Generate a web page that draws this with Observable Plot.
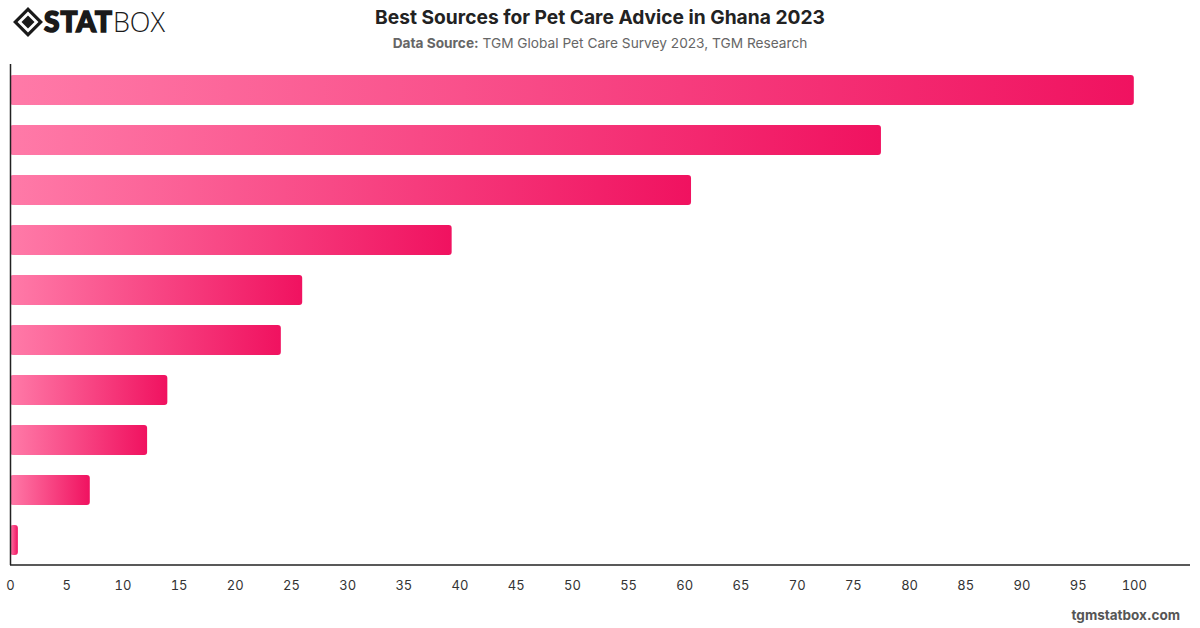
<!DOCTYPE html>
<html>
<head>
<meta charset="utf-8">
<script src="https://cdn.jsdelivr.net/npm/d3@7"></script>
<script src="https://cdn.jsdelivr.net/npm/@observablehq/plot@0.6"></script>
<style>
  html, body { margin: 0; padding: 0; background: #fff; }
  body { width: 1200px; height: 628px; position: relative; overflow: hidden; font-family: Inter, "Noto Sans", sans-serif; }
  #logo { position: absolute; left: 14px; top: 5px; }
  #title { position: absolute; left: 0; width: 1200px; top: 5px; text-align: center; font-size: 19.2px; font-weight: 700; color: #222; }
  #subtitle { position: absolute; left: 0; width: 1200px; top: 35px; text-align: center; font-size: 13.7px; color: #666; }
  #subtitle b { font-weight: 700; color: #666; }
  #chart { position: absolute; left: 0; top: 60px; }
  #footer { position: absolute; right: 20px; top: 607px; font-size: 13.5px; font-weight: 700; color: #555; }
</style>
</head>
<body>
<div id="logo">
  <svg width="200" height="38" viewBox="0 0 200 38" overflow="visible">
    <g transform="translate(14,17)">
      <rect x="-9" y="-9" width="18" height="18" transform="rotate(45)" fill="none" stroke="#1a1a1a" stroke-width="3.2"></rect>
      <rect x="-4.6" y="-4.6" width="9.2" height="9.2" transform="rotate(45)" fill="#1a1a1a"></rect>
    </g>
    <text x="30" y="27" font-family="Lato, Inter, sans-serif" font-size="28" fill="#1a1a1a"><tspan font-weight="900" stroke="#1a1a1a" stroke-width="1.6" letter-spacing="1">STAT</tspan><tspan font-weight="300" font-family="'Open Sans', Lato, sans-serif" font-size="27">BOX</tspan></text>
  </svg>
</div>
<div id="title">Best Sources for Pet Care Advice in Ghana 2023</div>
<div id="subtitle"><b>Data Source:</b> TGM Global Pet Care Survey 2023, TGM Research</div>
<div id="chart"></div>
<div id="footer">tgmstatbox.com</div>
<script>
// Ranked sources (names are not shown on the chart) and their shares, %
const ranks = ["1", "2", "3", "4", "5", "6", "7", "8", "9", "10"];
const shares = [100, 77.5, 60.6, 39.3, 26.0, 24.1, 14.0, 12.2, 7.1, 0.7];
const xTicks = [0, 5, 10, 15, 20, 25, 30, 35, 40, 45, 50, 55, 60, 65, 70, 75, 80, 85, 90, 95, 100];

const rows = ranks.map((r, i) => ({rank: r, share: shares[i]}));

const chart = Plot.plot({
  width: 1200,
  height: 540,
  marginTop: 4,
  marginBottom: 35,
  marginLeft: 10,
  marginRight: 10,
  style: {fontFamily: "Inter, 'Noto Sans', sans-serif", fontSize: "13px", color: "#333", background: "transparent"},
  x: {domain: [0, 105], ticks: xTicks, tickSize: 0, tickPadding: 15, label: null},
  y: {domain: ranks, paddingInner: 0.4, paddingOuter: 0.2, axis: null},
  marks: [
    () => {
      const defs = d3.create("svg:defs");
      const g = defs.append("linearGradient").attr("id", "barFill").attr("x1", "0").attr("x2", "1").attr("y1", "0").attr("y2", "0");
      g.append("stop").attr("offset", "0%").attr("stop-color", "#ff7aa8");
      g.append("stop").attr("offset", "100%").attr("stop-color", "#f01260");
      return defs.node();
    },
    Plot.barX(rows, {x: "share", y: "rank", fill: "url(#barFill)", rx: 3}),
    Plot.ruleX([0], {stroke: "#222", strokeWidth: 1.5})
  ]
});

// Baseline under the bars
d3.select(chart).append("line")
  .attr("x1", 10).attr("x2", 1190).attr("y1", 505).attr("y2", 505)
  .attr("stroke", "#222").attr("stroke-width", 1.5);
document.getElementById("chart").appendChild(chart);
</script>
</body>
</html>
